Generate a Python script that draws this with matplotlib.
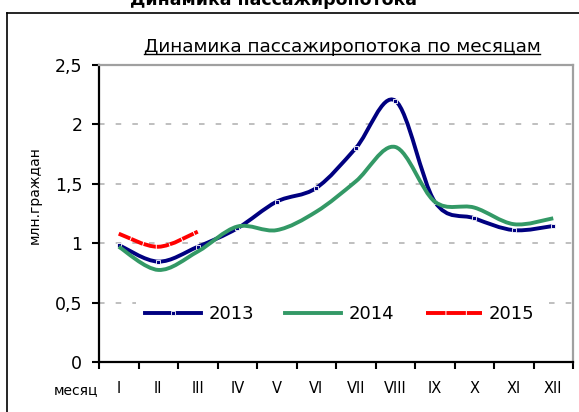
import matplotlib.pyplot as plt
import numpy as np
from matplotlib.path import Path
from matplotlib.patches import PathPatch
from matplotlib.lines import Line2D

plt.rcParams['font.family'] = ['DejaVu Sans']
plt.rcParams['lines.scale_dashes'] = False

# data (million passengers per month)
months = ['I', 'II', 'III', 'IV', 'V', 'VI', 'VII', 'VIII', 'IX', 'X', 'XI', 'XII']
y2013 = [0.985, 0.845, 0.97, 1.125, 1.35, 1.465, 1.80, 2.20, 1.35, 1.21, 1.11, 1.145]
y2014 = [0.97, 0.775, 0.93, 1.14, 1.11, 1.265, 1.52, 1.81, 1.35, 1.30, 1.16, 1.21]
y2015 = [1.08, 0.97, 1.097]
yticks = [0, 0.5, 1, 1.5, 2, 2.5]
ytick_labels = ['0', '0,5', '1', '1,5', '2', '2,5']

c2013 = '#000080'
c2014 = '#339966'
c2015 = '#ff0000'


def smooth_path(xs, ys):
    # Catmull-Rom style bezier through the points (like Excel smoothed lines)
    pts = np.column_stack([xs, ys]).astype(float)
    n = len(pts)
    verts = [pts[0]]
    codes = [Path.MOVETO]
    for i in range(n - 1):
        p0 = pts[i - 1] if i > 0 else pts[i]
        p1 = pts[i]
        p2 = pts[i + 1]
        p3 = pts[i + 2] if i + 2 < n else pts[i + 1]
        verts += [p1 + (p2 - p0) / 6, p2 - (p3 - p1) / 6, p2]
        codes += [Path.CURVE4] * 3
    return Path(verts, codes)


fig = plt.figure(figsize=(5.79, 4.12), dpi=100)
ax = fig.add_axes([99 / 579, 1 - 362 / 412, 474 / 579, 297 / 412])

x = np.arange(len(months)) + 0.5

series = [
    (y2013, c2013, '-', 3),
    (y2014, c2014, '-', 4),
    (y2015, c2015, (0, (9, 0.7)), 5),
]
for ys, col, ls, z in series:
    xs = x[:len(ys)]
    patch = PathPatch(smooth_path(xs, ys), fill=False, edgecolor=col, lw=2.8,
                      linestyle=ls, capstyle='butt', joinstyle='round', zorder=z)
    ax.add_patch(patch)

# small white-edged markers on the 2013 line
ax.plot(x, y2013, ls='none', marker='s', ms=3.4, mfc=c2013, mec='white', mew=0.6, zorder=3.5)

ax.set_xlim(0, 12)
ax.set_ylim(0, 2.5)
ax.set_xticks(np.arange(0, 13))
ax.set_xticklabels([])
ax.set_xticks(x, minor=True)
ax.set_xticklabels(months, minor=True, fontsize=10.5)
ax.tick_params(axis='x', which='major', length=5, width=1.5, direction='out')
ax.tick_params(axis='x', which='minor', length=0, pad=14)
ax.set_yticks(yticks)
ax.set_yticklabels(ytick_labels, fontsize=12.5)
ax.tick_params(axis='y', length=5, width=1.5, direction='out', pad=7)

for s in ['left', 'bottom']:
    ax.spines[s].set_color('black')
    ax.spines[s].set_linewidth(1.6)
for s in ['top', 'right']:
    ax.spines[s].set_color('#a0a0a0')
    ax.spines[s].set_linewidth(1.6)

for yv in [0.5, 1, 1.5, 2]:
    ax.axhline(yv, color='#b4b4b4', lw=1.2, ls=(0, (4, 8)), zorder=1)

handles = [
    Line2D([], [], color=c2013, lw=2.8, marker='s', ms=3.4, mfc=c2013, mec='white', mew=0.6),
    Line2D([], [], color=c2014, lw=2.8),
    Line2D([], [], color=c2015, lw=2.8, ls=(0, (14, 0.7))),
]
leg = ax.legend(handles, ['2013', '2014', '2015'], loc='center',
                bbox_to_anchor=(0.508, 0.1616), ncol=3, fontsize=13,
                frameon=True, framealpha=1, edgecolor='none', facecolor='white',
                handlelength=3.1, handletextpad=0.4, columnspacing=1.75,
                borderpad=0.5, numpoints=1)
leg.set_zorder(6)

# titles and labels
fig.text(273 / 579, 1 - 5 / 412, 'Динамика пассажиропотока', ha='center', va='baseline',
         fontsize=12.5, fontweight='bold')
sub = fig.text(342 / 579, 1 - 47 / 412, 'Динамика пассажиропотока по месяцам',
               ha='center', va='center', fontsize=13.3)
fig.text(35 / 579, 1 - 195 / 412, 'млн.граждан', rotation=90, ha='center', va='center',
         fontsize=10)
fig.text(76 / 579, 1 - 390 / 412, 'месяц', ha='center', va='center', fontsize=10)

# underline for the inner title
fig.canvas.draw()
bb = sub.get_window_extent().transformed(fig.transFigure.inverted())
fig.add_artist(Line2D([bb.x0, bb.x1], [bb.y0 + 0.004, bb.y0 + 0.004],
                      transform=fig.transFigure, color='black', lw=1))

# outer chart frame (partly cropped)
fig.add_artist(Line2D([6.5 / 579, 6.5 / 579], [0, 1 - 12.5 / 412],
                      transform=fig.transFigure, color='black', lw=1.2))
fig.add_artist(Line2D([6.5 / 579, 1], [1 - 12.5 / 412, 1 - 12.5 / 412],
                      transform=fig.transFigure, color='black', lw=1.2))

fig.savefig('out.png', dpi=100)
